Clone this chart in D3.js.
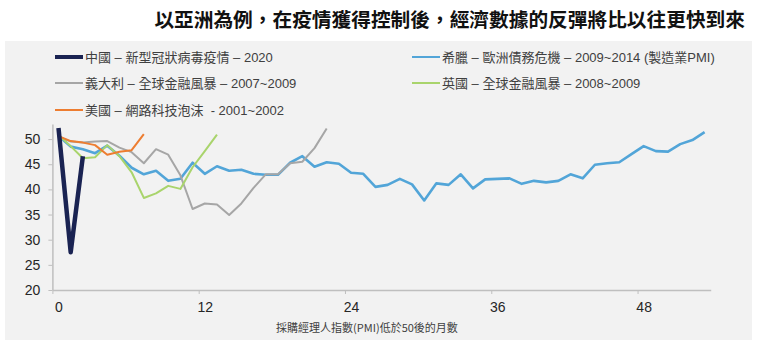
<!DOCTYPE html>
<html><head><meta charset="utf-8">
<script src="https://cdn.jsdelivr.net/npm/d3@7"></script>
<style>
html,body{margin:0;padding:0;background:#fff;}
svg{display:block;font-family:Arial,"Liberation Sans","Noto Sans CJK TC",sans-serif;}
</style></head><body>
<svg id="c" width="760" height="358"></svg>
<script>
const title = "以亞洲為例，在疫情獲得控制後，經濟數據的反彈將比以往更快到來";
const xTitle = "採購經理人指數(PMI)低於50後的月數";
const xTickLabels = [0, 12, 24, 36, 48];
const yTickLabels = [20, 25, 30, 35, 40, 45, 50];

const seriesNames = [
  "中國 – 新型冠狀病毒疫情 – 2020",
  "希臘 – 歐洲債務危機 – 2009~2014 (製造業PMI)",
  "義大利 – 全球金融風暴 – 2007~2009",
  "英國 – 全球金融風暴 – 2008~2009",
  "美國 – 網路科技泡沫  - 2001~2002"
];
const china = [52.2, 27.5, 46.6];
const greece = [50.6, 48.5, 48.0, 47.2, 48.7, 46.7, 44.3, 43.0, 43.7, 41.7, 42.1, 45.3, 43.1, 44.6, 43.7, 43.9, 43.1, 42.9, 42.9, 45.3, 46.6, 44.5, 45.4, 45.1, 43.3, 43.1, 40.5, 40.9, 42.1, 41.0, 37.8, 41.2, 40.9, 43.0, 40.2, 42.0, 42.1, 42.2, 41.1, 41.7, 41.4, 41.7, 43.0, 42.2, 44.9, 45.2, 45.4, 47.0, 48.6, 47.6, 47.5, 49.0, 49.8, 51.4];
const italy = [50.5, 49.5, 49.3, 49.5, 49.6, 48.3, 47.4, 45.2, 48.0, 46.9, 42.8, 36.1, 37.2, 37.0, 34.9, 37.2, 40.3, 43.0, 43.0, 45.2, 45.5, 48.2, 52.1];
const uk = [50.8, 48.6, 46.2, 46.4, 48.8, 46.6, 43.4, 38.3, 39.2, 40.7, 40.1, 44.4, 47.6, 50.9];
const us = [50.6, 49.6, 49.3, 48.8, 46.9, 47.5, 47.8, 51.0];

const colors = ["#1a2352", "#52a5d8", "#a6a6a6", "#a9d46c", "#ed7d31"];
const widths = [4.5, 2.6, 2, 2, 2];
const values = [china, greece, italy, uk, us];

const svg = d3.select("#c");
svg.append("rect").attr("x", 5).attr("y", 41).attr("width", 747).attr("height", 299).attr("fill", "#f2f2f2");

svg.append("text").attr("x", 745).attr("y", 27).attr("text-anchor", "end")
  .attr("font-family", "'Noto Sans CJK TC', sans-serif").attr("font-weight", "bold")
  .attr("font-size", 19.7).attr("fill", "#111").text(title);

const x = d3.scaleLinear().domain([-0.5, 53.5]).range([52.4, 710.7]);
const y = d3.scaleLinear().domain([20, 53]).range([290, 124]);

// y axis
const ya = svg.append("g").attr("transform", `translate(${x(-0.5)},0)`)
  .call(d3.axisLeft(y).tickValues(yTickLabels).tickSizeInner(4).tickSizeOuter(0).tickPadding(8));
ya.select(".domain").attr("stroke", "#bfbfbf").attr("stroke-width", 1.5);
ya.selectAll(".tick line").attr("stroke", "#bfbfbf");
ya.selectAll(".tick text").attr("font-size", 14).attr("fill", "#262626").attr("font-family", "Arial,'Liberation Sans',sans-serif");

// x axis: tick marks between categories, labels centered on categories
const half = x(0) - x(-0.5);
const xa = svg.append("g").attr("transform", `translate(0,${y(20)})`)
  .call(d3.axisBottom(x).tickValues(xTickLabels.map(d => d - 0.5)).tickFormat(d => d + 0.5)
    .tickSizeInner(4).tickSizeOuter(0).tickPadding(8));
xa.select(".domain").attr("stroke", "#bfbfbf").attr("stroke-width", 1.5);
xa.selectAll(".tick line").attr("stroke", "#bfbfbf");
xa.selectAll(".tick text").attr("x", half).attr("font-size", 14).attr("fill", "#262626")
  .attr("font-family", "Arial,'Liberation Sans',sans-serif");

svg.append("text").attr("x", 367).attr("y", 332).attr("text-anchor", "middle")
  .attr("font-size", 11).attr("fill", "#404040")
  .attr("font-family", "'Noto Sans CJK TC', sans-serif").text(xTitle);

// lines: draw in order so China on top
const line = d3.line().x((d, i) => x(i)).y(d => y(d));
const order = [1, 2, 3, 4, 0];
order.forEach(k => {
  svg.append("path").datum(values[k]).attr("d", line)
    .attr("fill", "none").attr("stroke", colors[k]).attr("stroke-width", widths[k])
    .attr("stroke-linejoin", "round").attr("stroke-linecap", "butt");
});

// legend
const legendPos = [[55, 57], [412, 57], [55, 83], [412, 83], [55, 110]];
seriesNames.forEach((name, k) => {
  const [lx, ly] = legendPos[k];
  svg.append("line").attr("x1", lx).attr("x2", lx + 28).attr("y1", ly).attr("y2", ly)
    .attr("stroke", colors[k]).attr("stroke-width", k === 0 ? 4 : 2);
  svg.append("text").attr("x", lx + 30).attr("y", ly).attr("dy", "0.35em")
    .attr("font-size", 13).attr("fill", "#404040")
    .attr("font-family", "Arial,'Liberation Sans','Noto Sans CJK TC',sans-serif")
    .style("white-space", "pre").text(name);
});
</script>
</body></html>
